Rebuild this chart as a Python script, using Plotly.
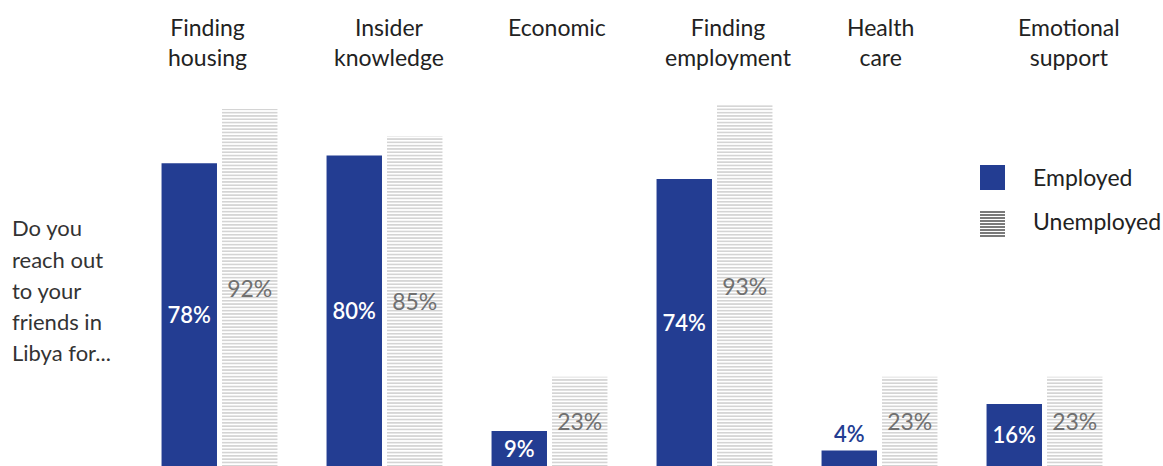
import plotly.graph_objects as go

# Categories and survey shares (%)
categories = ["Finding<br>housing", "Insider<br>knowledge", "Economic",
              "Finding<br>employment", "Health<br>care", "Emotional<br>support"]
employed = [78, 80, 9, 74, 4, 16]
unemployed = [92, 85, 23, 93, 23, 23]
question_lines = ["Do you", "reach out", "to your", "friends in", "Libya for..."]
legend_labels = ["Employed", "Unemployed"]

# horizontal nudge of each heading relative to its bar group (px)
heading_shift = [-12, 4, 7, 14, 1, 24]

BLUE = "#233D92"
GRAY_TEXT = "#707070"
FONT = "Lato"

W, H = 1163, 466
M_L, M_R, M_T, M_B = 137, 36, 78, 0
PW, PH = W - M_L - M_R, H - M_T - M_B


def px(x):
    return (x - M_L) / PW


def py(y):
    return (H - M_B - y) / PH


x_idx = list(range(len(categories)))

fig = go.Figure()
fig.add_trace(go.Bar(
    x=x_idx, y=employed, name=legend_labels[0],
    marker=dict(color=BLUE, line=dict(width=0)),
    text=[f"{v}%" for v in employed],
    textposition=["inside" if v > 6 else "outside" for v in employed],
    insidetextanchor="middle",
    constraintext="none", cliponaxis=False,
    insidetextfont=dict(color="white", size=22, family=FONT, weight=600),
    outsidetextfont=dict(color=BLUE, size=22, family=FONT, weight=600),
    showlegend=False,
))
fig.add_trace(go.Bar(
    x=x_idx, y=unemployed, name=legend_labels[1],
    marker=dict(color="white", line=dict(width=0),
                pattern=dict(shape="-", size=3.3, solidity=0.4,
                             fgcolor="#949494", bgcolor="#ffffff")),
    text=[f"{v}%" for v in unemployed],
    textposition="inside", insidetextanchor="middle",
    constraintext="none",
    insidetextfont=dict(color=GRAY_TEXT, size=23, family=FONT),
    showlegend=False,
))

annotations = []
# Category headings, top-aligned above each group
for i, cat in enumerate(categories):
    annotations.append(dict(
        x=i, y=py(11), xref="x", yref="paper", text=cat, showarrow=False,
        xanchor="center", yanchor="top", align="center", xshift=heading_shift[i],
        font=dict(size=23, family=FONT, color="#222222")))

for i, line in enumerate(question_lines):
    annotations.append(dict(
        x=px(10), y=py(228 + 31 * i), xref="paper", yref="paper",
        text=line, showarrow=False, xanchor="left", yanchor="middle",
        font=dict(size=22, family=FONT, color="#333333")))

# Legend entries drawn by hand so the swatches can be large
shapes = [dict(type="rect", xref="paper", yref="paper",
               x0=px(980), x1=px(1005), y0=py(190), y1=py(165),
               fillcolor=BLUE, line=dict(width=0))]
for k in range(9):
    yy = 212 + 3 * k
    shapes.append(dict(type="line", xref="paper", yref="paper",
                       x0=px(980), x1=px(1005), y0=py(yy), y1=py(yy),
                       line=dict(color="#222222", width=1.2)))
for lab, yc in zip(legend_labels, [177, 221]):
    annotations.append(dict(
        x=px(1031), y=py(yc), xref="paper", yref="paper",
        text=lab, showarrow=False, xanchor="left", yanchor="middle",
        font=dict(size=23, family=FONT, color="#222222")))

fig.update_layout(
    width=W, height=H,
    margin=dict(l=M_L, r=M_R, t=M_T, b=M_B),
    paper_bgcolor="white", plot_bgcolor="white",
    barmode="group", bargap=0.267, bargroupgap=0.083,
    showlegend=False,
    annotations=annotations, shapes=shapes,
    xaxis=dict(range=[-0.5, len(categories) - 0.5], visible=False,
               showgrid=False, zeroline=False),
    yaxis=dict(range=[0, 100], visible=False, showgrid=False, zeroline=False),
)

fig.write_html("out.html")
